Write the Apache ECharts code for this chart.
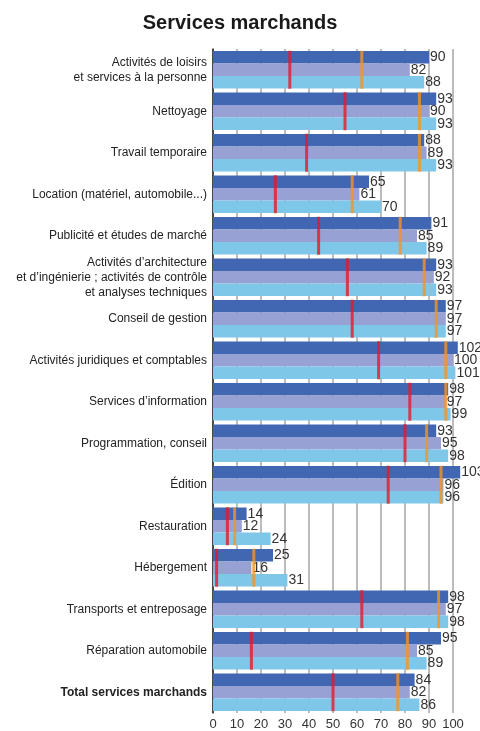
<!DOCTYPE html>
<html lang="fr">
  <head>
    <meta charset="utf-8" />
    <title>Services marchands</title>
    <style>
      * {
        margin: 0;
        padding: 0;
      }

      #chart-container {
        position: relative;
        width: 480px;
        height: 731px;
        overflow: hidden;
        background: #fff;
      }
    </style>
  </head>

  <body>
    <div id="chart-container"></div>
    <script src="https://cdn.jsdelivr.net/npm/echarts@6/dist/echarts.min.js"></script>
    <script>
      var categories = [
        "Activités de loisirs\net services à la personne",
        "Nettoyage",
        "Travail temporaire",
        "Location (matériel, automobile...)",
        "Publicité et études de marché",
        "Activités d’architecture\net d’ingénierie ; activités de contrôle\net analyses techniques",
        "Conseil de gestion",
        "Activités juridiques et comptables",
        "Services d’information",
        "Programmation, conseil",
        "Édition",
        "Restauration",
        "Hébergement",
        "Transports et entreposage",
        "Réparation automobile",
        "Total services marchands",
      ];

      var serieA = [90, 93, 88, 65, 91, 93, 97, 102, 98, 93, 103, 14, 25, 98, 95, 84];
      var serieB = [82, 90, 89, 61, 85, 92, 97, 100, 97, 95, 96, 12, 16, 97, 85, 82];
      var serieC = [88, 93, 93, 70, 89, 93, 97, 101, 99, 98, 96, 24, 31, 98, 89, 86];

      // repères verticaux
      var repereRouge = [32, 55, 39, 26, 44, 56, 58, 69, 82, 80, 73, 6, 1.5, 62, 16, 50];
      var repereOrange = [62, 86, 86, 58, 78, 88, 93, 97, 97, 89, 95, 9, 17, 94, 81, 77];

      var xTicks = [0, 10, 20, 30, 40, 50, 60, 70, 80, 90, 100];

      var dom = document.getElementById("chart-container");
      var myChart = echarts.init(dom, null, { renderer: "canvas" });

      var police = "'Liberation Sans Narrow', 'Liberation Sans', Arial, sans-serif";

      function barSerie(data, color) {
        return {
          type: "bar",
          data: data,
          clip: false,
          barGap: "0%",
          barCategoryGap: "10%",
          itemStyle: { color: color },
          label: {
            show: true,
            position: "right",
            distance: 1,
            color: "#333",
            fontSize: 14,
            fontFamily: police,
          },
          z: 2,
        };
      }

      function repere(data, color) {
        return {
          type: "scatter",
          data: data.map(function (v, i) {
            return [v, i];
          }),
          symbol: "rect",
          symbolSize: [3, 38],
          itemStyle: { color: color },
          silent: true,
          z: 5,
        };
      }

      var option = {
        animation: false,
        title: {
          text: "Services marchands",
          left: "center",
          top: 8,
          textStyle: {
            fontSize: 20,
            fontWeight: "bold",
            color: "#1a1a1a",
            fontFamily: "'Liberation Sans', Arial, sans-serif",
          },
        },
        grid: {
          left: 213,
          right: 27,
          top: 49,
          bottom: 17,
          containLabel: false,
        },
        xAxis: {
          type: "value",
          min: 0,
          max: 100,
          interval: 10,
          axisLine: { show: false },
          axisTick: { show: false },
          axisLabel: {
            color: "#333",
            fontSize: 13,
            fontFamily: police,
            margin: 5,
            customValues: xTicks,
          },
          splitLine: {
            show: true,
            lineStyle: { color: "#a6a6a6", width: 1.5 },
          },
        },
        yAxis: {
          type: "category",
          inverse: true,
          data: categories,
          axisLine: { show: true, lineStyle: { color: "#222", width: 1.5 } },
          axisTick: { show: false },
          axisLabel: {
            color: "#222",
            fontSize: 12,
            fontFamily: police,
            lineHeight: 15,
            align: "right",
            margin: 6,
            formatter: function (v) {
              if (v === "Total services marchands") return "{b|" + v + "}";
              return v;
            },
            rich: {
              b: { fontWeight: "bold", fontSize: 12, fontFamily: police, color: "#222" },
            },
          },
        },
        series: [
          barSerie(serieA, "#4167B2"),
          barSerie(serieB, "#97A1D3"),
          barSerie(serieC, "#7FC7E9"),
          repere(repereRouge, "#E8182B"),
          repere(repereOrange, "#F7931E"),
        ],
      };

      myChart.setOption(option);
      window.addEventListener("resize", myChart.resize);
    </script>
  </body>
</html>
